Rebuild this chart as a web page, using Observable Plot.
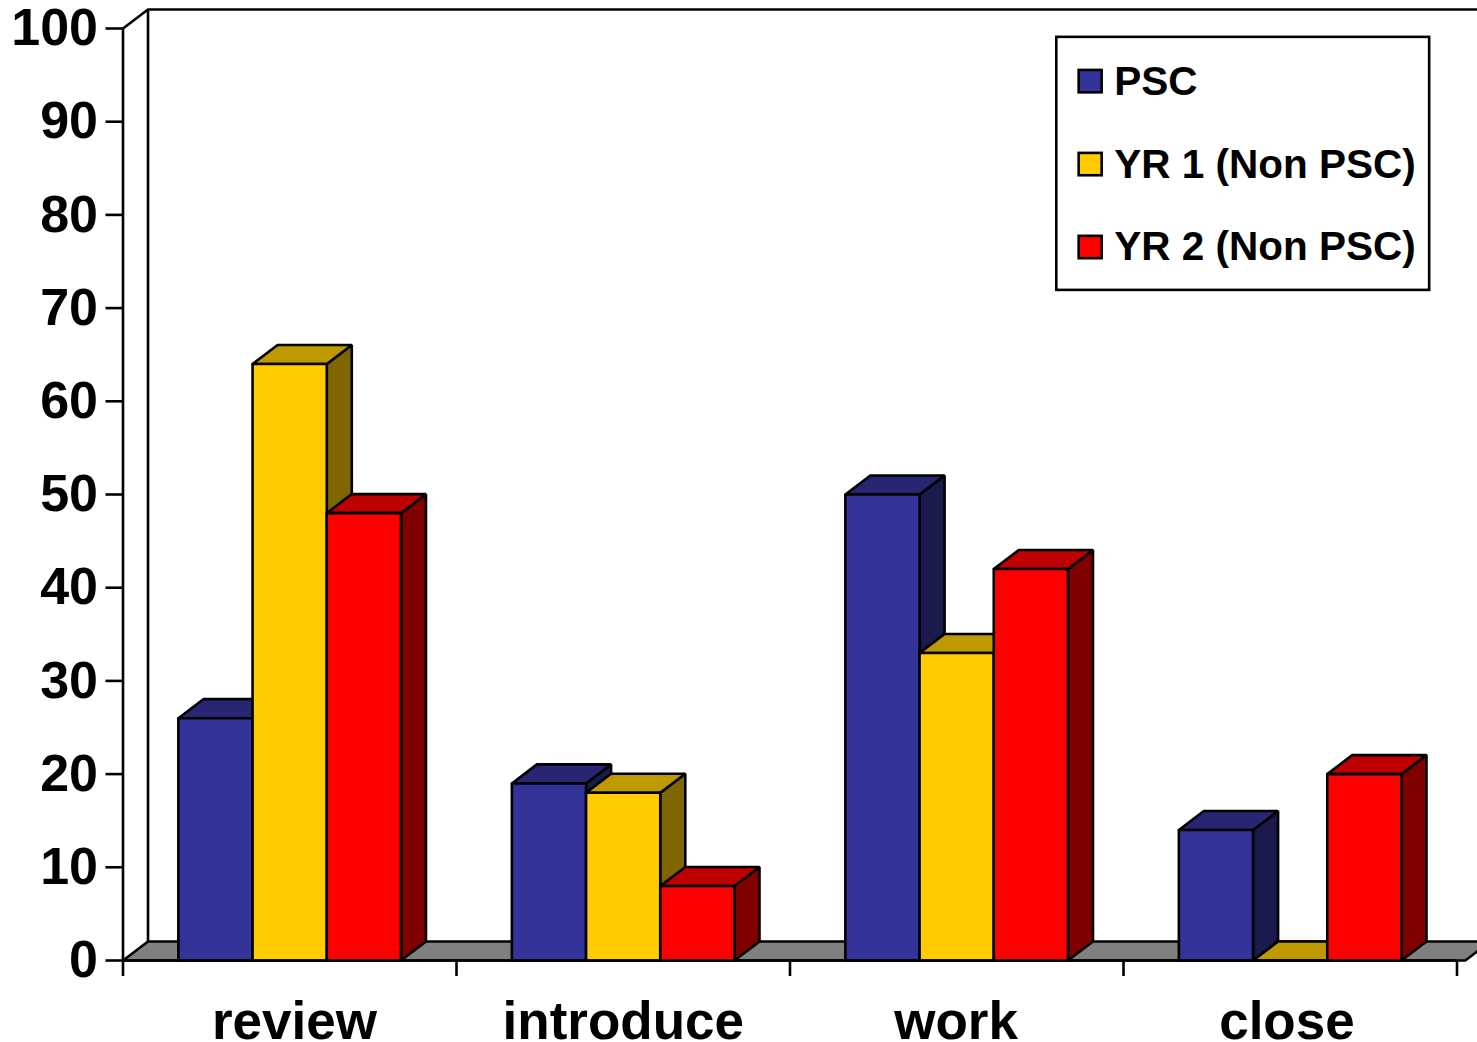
<!DOCTYPE html>
<html>
<head>
<meta charset="utf-8">
<style>html,body{margin:0;padding:0;background:#fff}svg{display:block}</style>
<script src="https://cdn.jsdelivr.net/npm/d3@7"></script>
<script src="https://cdn.jsdelivr.net/npm/@observablehq/plot@0.6"></script>
</head>
<body>
<div id="chart"></div>
<script>
const categories = ["review", "introduce", "work", "close"];
const labelCenters = [0.514, 1.5, 2.498, 3.49];
const seriesNames = ["PSC", "YR 1 (Non PSC)", "YR 2 (Non PSC)"];
const psc = [26, 19, 50, 14];
const yr1 = [64, 18, 33, 0];
const yr2 = [48, 8, 42, 20];
const seriesValues = [psc, yr1, yr2];
const yTicks = [0, 10, 20, 30, 40, 50, 60, 70, 80, 90, 100];
const xTicks = [0, 1, 2, 3, 4];
const frontColors = ["#333399", "#ffcc00", "#ff0000"];
const topColors = ["#262673", "#bf9900", "#bf0000"];
const sideColors = ["#1a1a4d", "#806600", "#800000"];
const floorColor = "#808080";

// geometry of the pseudo-3D box, in data units
const depthX = 0.075, depthY = 2.04, barStart = 0.166, barWidth = 0.2225, rightEdge = 4.1, sw = 2.6;

const polys = [];
function poly(id, fill, pts) {
  for (const [x, y] of [...pts, pts[0]]) polys.push({id, fill, x, y});
}
categories.forEach((c, i) => {
  seriesValues.forEach((vals, s) => {
    const v = vals[i];
    const x0 = i + barStart + s * barWidth, x1 = x0 + barWidth;
    poly(`${c}-${s}-side`, sideColors[s], [[x1, 0], [x1 + depthX, depthY], [x1 + depthX, v + depthY], [x1, v]]);
    poly(`${c}-${s}-top`, topColors[s], [[x0, v], [x0 + depthX, v + depthY], [x1 + depthX, v + depthY], [x1, v]]);
    poly(`${c}-${s}-front`, frontColors[s], [[x0, 0], [x0, v], [x1, v], [x1, 0]]);
  });
});

const legendRows = seriesNames.map((name, s) => ({name, color: frontColors[s], y: 94.3 - s * 8.9}));

const chart = Plot.plot({
  width: 1477, height: 1042,
  marginLeft: 122.5, marginRight: 20.5, marginTop: 28, marginBottom: 82,
  x: {domain: [0, 4], axis: null},
  y: {domain: [0, 100], axis: null},
  color: {type: "identity"},
  style: {fontFamily: "'Liberation Sans', Arial, sans-serif", fontWeight: "bold", color: "#000", background: "#fff", overflow: "hidden"},
  marks: [
    Plot.line([[0, 100], [depthX, 100 + depthY], [rightEdge, 100 + depthY]], {x: d => d[0], y: d => d[1], stroke: "#000", strokeWidth: sw}),
    Plot.ruleX([depthX], {y1: depthY, y2: 100 + depthY, stroke: "#000", strokeWidth: sw}),
    Plot.line([[0, 0], [depthX, depthY], [rightEdge, depthY], [rightEdge - depthX, 0], [0, 0]], {x: d => d[0], y: d => d[1], fill: floorColor, stroke: "#000", strokeWidth: sw}),
    Plot.ruleX([0], {y1: 0, y2: 100, stroke: "#000", strokeWidth: sw}),
    Plot.line(polys, {x: "x", y: "y", z: "id", fill: "fill", stroke: "#000", strokeWidth: sw, strokeLinejoin: "miter"}),
    Plot.ruleY([0], {x1: 0, x2: 4, stroke: "#000", strokeWidth: sw}),
    Plot.axisY({ticks: yTicks, tickSize: 17, tickPadding: 8, fontSize: 52, strokeWidth: sw, label: null, tickFormat: d => String(d)}),
    Plot.axisX({ticks: xTicks, tickSize: 16, strokeWidth: sw, label: null, tickFormat: () => null}),
    Plot.text(categories, {x: (d, i) => labelCenters[i], y: 0, text: d => d, dy: 62, fontSize: 53, textAnchor: "middle", lineAnchor: "middle"}),
    Plot.rect([0], {x1: 2.8, x2: 3.918, y1: 71.9, y2: 99.05, fill: "#fff", stroke: "#000", strokeWidth: sw}),
    Plot.rect(legendRows, {x1: 2.867, x2: 2.936, y1: d => d.y - 1.2, y2: d => d.y + 1.2, fill: "color", stroke: "#000", strokeWidth: sw}),
    Plot.text(legendRows, {x: 2.972, y: "y", text: "name", fontSize: 40.5, textAnchor: "start", lineAnchor: "middle"})
  ]
});
document.getElementById("chart").appendChild(chart);
</script>
</body>
</html>
